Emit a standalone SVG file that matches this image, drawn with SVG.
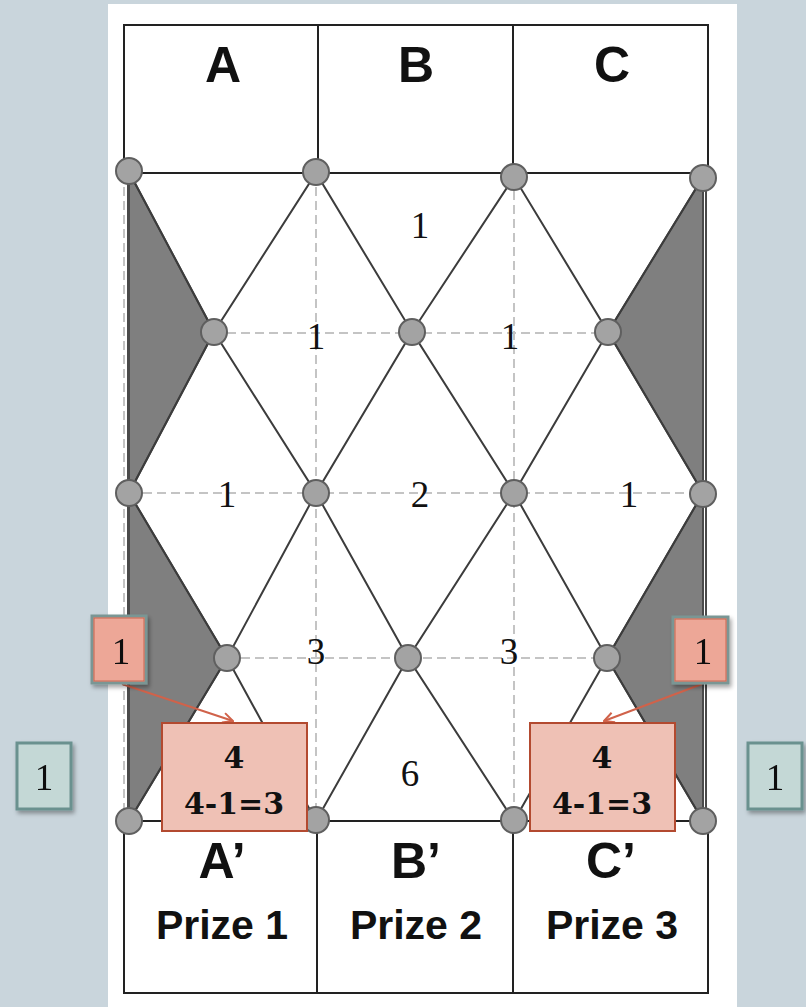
<svg xmlns="http://www.w3.org/2000/svg" width="806" height="1007" viewBox="0 0 806 1007">
<defs>
<style>
.frame{fill:none;stroke:#222;stroke-width:2}
.lat{stroke:#3c3c3c;stroke-width:2;fill:none}
.dash{stroke:#c4c4c4;stroke-width:2;stroke-dasharray:9 5;fill:none}
.shade{fill:#7f7f7f;stroke:#4a4a4a;stroke-width:2;stroke-linejoin:round}
.node{fill:#a3a3a3;stroke:#5f5f5f;stroke-width:2}
.num{font-family:"Liberation Serif","Times New Roman",serif;font-size:37px;fill:#111;text-anchor:middle}
.bnum{font-family:"DejaVu Serif","Liberation Serif",serif;font-weight:bold;font-size:30px;fill:#111;text-anchor:middle}
.lbl{font-family:"Liberation Sans",Arial,sans-serif;font-weight:bold;font-size:50px;fill:#111;text-anchor:middle}
.prize{font-family:"Liberation Sans",Arial,sans-serif;font-weight:bold;font-size:41px;fill:#111;text-anchor:middle}
.small{fill:#eda797;stroke:#7a9694;stroke-width:3}
.smallin{fill:none;stroke:#c8644f;stroke-width:1}
.big{fill:#efc1b5;stroke:#b34a30;stroke-width:2}
.green{fill:#c4d8d6;stroke:#6a918f;stroke-width:3}
.arrow{stroke:#d0624a;stroke-width:2;fill:none}
</style>
<filter id="sh" x="-20%" y="-20%" width="150%" height="150%">
<feDropShadow dx="2" dy="3" stdDeviation="2" flood-color="#000" flood-opacity="0.35"/>
</filter>
<marker id="ah" viewBox="0 0 12 12" refX="11" refY="6" markerWidth="12" markerHeight="12" markerUnits="userSpaceOnUse" orient="auto">
<path d="M1,1 L11,6 L1,11" fill="none" stroke="#d0624a" stroke-width="2"/>
</marker>
</defs>
<rect x="0" y="0" width="806" height="1007" fill="#c9d5dc"/>
<rect x="108" y="4" width="629" height="1003" fill="#ffffff"/>

<g id="grid">
<line class="dash" x1="124" y1="173" x2="124" y2="821"/>
<line class="dash" x1="316" y1="173" x2="316" y2="821"/>
<line class="dash" x1="514" y1="177" x2="514" y2="821"/>
<line class="dash" x1="129" y1="333" x2="703" y2="333"/>
<line class="dash" x1="129" y1="493" x2="703" y2="493"/>
<line class="dash" x1="129" y1="658" x2="703" y2="658"/>
</g>

<g id="shading">
<polygon class="shade" points="129,172 214,332 129,493"/>
<polygon class="shade" points="703,177 608,332 703,493"/>
<polygon class="shade" points="129,493 227,658 129,821"/>
<polygon class="shade" points="703,493 607,658 703,821"/>
</g>

<g id="frames">
<rect class="frame" x="124" y="25" width="584" height="148"/>
<line class="frame" x1="318" y1="25" x2="318" y2="173"/>
<line class="frame" x1="513" y1="25" x2="513" y2="173"/>
<rect class="frame" x="124" y="821" width="584" height="172"/>
<line class="frame" x1="317" y1="821" x2="317" y2="993"/>
<line class="frame" x1="513" y1="821" x2="513" y2="993"/>
<line x1="706" y1="177" x2="706" y2="821" stroke="#4a4a4a" stroke-width="2"/>
<line x1="128" y1="172" x2="128" y2="821" stroke="#4a4a4a" stroke-width="2"/>
</g>

<g id="connectors">
<polyline class="lat" points="129,172 214,332 316,173 412,332 514,177 608,332 703,177"/>
<polyline class="lat" points="129,493 214,332 316,493 412,332 514,493 608,332 703,493"/>
<polyline class="lat" points="129,493 227,658 316,493 408,658 514,493 607,658 703,493"/>
<polyline class="lat" points="129,821 227,658 316,821 408,658 514,821 607,658 703,821"/>
</g>

<g id="nodes">
<circle class="node" cx="129" cy="171" r="13"/>
<circle class="node" cx="316" cy="172" r="13"/>
<circle class="node" cx="514" cy="177" r="13"/>
<circle class="node" cx="703" cy="178" r="13"/>
<circle class="node" cx="214" cy="332" r="13"/>
<circle class="node" cx="412" cy="332" r="13"/>
<circle class="node" cx="608" cy="332" r="13"/>
<circle class="node" cx="129" cy="493" r="13"/>
<circle class="node" cx="316" cy="493" r="13"/>
<circle class="node" cx="514" cy="493" r="13"/>
<circle class="node" cx="703" cy="494" r="13"/>
<circle class="node" cx="227" cy="658" r="13"/>
<circle class="node" cx="408" cy="658" r="13"/>
<circle class="node" cx="607" cy="658" r="13"/>
<circle class="node" cx="129" cy="821" r="13"/>
<circle class="node" cx="316" cy="820" r="13"/>
<circle class="node" cx="514" cy="820" r="13"/>
<circle class="node" cx="703" cy="821" r="13"/>
</g>

<g id="labels">
<text class="lbl" x="223" y="82">A</text>
<text class="lbl" x="416" y="82">B</text>
<text class="lbl" x="612" y="82">C</text>
<text class="lbl" x="222" y="878">A’</text>
<text class="lbl" x="416" y="878">B’</text>
<text class="lbl" x="611" y="878">C’</text>
<text class="prize" x="222" y="939">Prize 1</text>
<text class="prize" x="416" y="939">Prize 2</text>
<text class="prize" x="612" y="939">Prize 3</text>
</g>

<g id="counts">
<text class="num" x="420" y="238">1</text>
<text class="num" x="316" y="349">1</text>
<text class="num" x="510" y="349">1</text>
<text class="num" x="227" y="507">1</text>
<text class="num" x="420" y="507">2</text>
<text class="num" x="629" y="507">1</text>
<text class="num" x="316" y="664">3</text>
<text class="num" x="509" y="664">3</text>
<text class="num" x="410" y="786">6</text>
</g>

<g id="arrows">
<line class="arrow" x1="122" y1="684" x2="233" y2="721" marker-end="url(#ah)"/>
<line class="arrow" x1="702" y1="684" x2="604" y2="721" marker-end="url(#ah)"/>
</g>

<g id="box-left-small" filter="url(#sh)">
<rect class="small" x="92" y="616" width="54" height="67"/>
<rect class="smallin" x="94" y="618" width="50" height="63"/>
<text class="num" x="121" y="664">1</text>
</g>
<g id="box-right-small" filter="url(#sh)">
<rect class="small" x="673" y="617" width="55" height="66"/>
<rect class="smallin" x="675" y="619" width="51" height="62"/>
<text class="num" x="703" y="664">1</text>
</g>

<g id="box-left-big">
<rect class="big" x="162" y="723" width="145" height="108"/>
<text class="bnum" x="234" y="768">4</text>
<text class="bnum" x="234" y="814">4-1=3</text>
</g>
<g id="box-right-big">
<rect class="big" x="530" y="723" width="145" height="108"/>
<text class="bnum" x="602" y="768">4</text>
<text class="bnum" x="602" y="814">4-1=3</text>
</g>

<g id="box-left-green" filter="url(#sh)">
<rect class="green" x="17" y="743" width="54" height="66"/>
<text class="num" x="44" y="790">1</text>
</g>
<g id="box-right-green" filter="url(#sh)">
<rect class="green" x="748" y="743" width="54" height="66"/>
<text class="num" x="775" y="790">1</text>
</g>
</svg>
